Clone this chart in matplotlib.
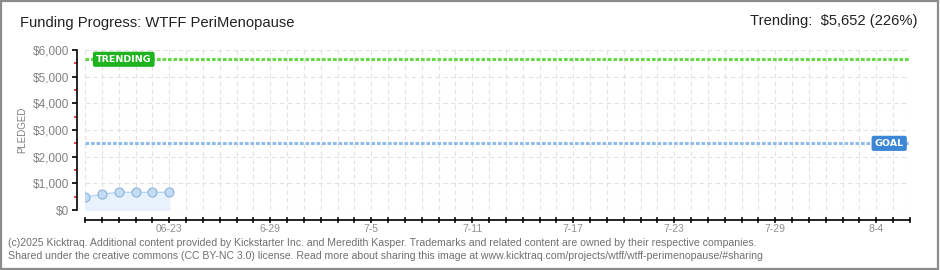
import matplotlib
matplotlib.use("Agg")
import matplotlib.pyplot as plt
import matplotlib.dates as mdates
from matplotlib.ticker import FixedLocator, FixedFormatter, MultipleLocator, FuncFormatter
from matplotlib.patches import Rectangle
import numpy as np

plt.rcParams['font.family'] = ['Liberation Sans', 'DejaVu Sans']

# pledge data
dates = np.array(['2025-06-18', '2025-06-19', '2025-06-20',
                  '2025-06-21', '2025-06-22', '2025-06-23'], dtype='datetime64[D]')
pledged = [475, 590, 660, 662, 662, 665]

goal = 2500
trending = 5652
start = np.datetime64('2025-06-18')
end = np.datetime64('2025-08-06')

label_dates = np.array(['2025-06-23', '2025-06-29', '2025-07-05', '2025-07-11',
                        '2025-07-17', '2025-07-23', '2025-07-29', '2025-08-04'],
                       dtype='datetime64[D]')
label_text = ['06-23', '6-29', '7-5', '7-11', '7-17', '7-23', '7-29', '8-4']

x = mdates.date2num(dates.astype('datetime64[s]').astype(object))
x0 = mdates.date2num(start.astype(object))
x1 = mdates.date2num(end.astype(object))
days = np.arange(x0, x1 + 1)
lx = [mdates.date2num(d.astype(object)) for d in label_dates]

fig = plt.figure(figsize=(9.4, 2.7), dpi=100)
fig.patches.append(Rectangle((0.001, 0.002), 0.997, 0.995, transform=fig.transFigure,
                             fill=False, edgecolor='#8c8c8c', linewidth=1.6))

ax = fig.add_axes([85 / 940, 60 / 270, 825 / 940, 160 / 270])
ax.set_xlim(x0, x1)
ax.set_ylim(0, 6000)

# grid
for d in days:
    ax.axvline(d, color='#e2e2e2', lw=0.8, ls=(0, (4, 3)), zorder=0)
for v in range(0, 7000, 1000):
    ax.axhline(v, color='#e2e2e2', lw=0.8, ls=(0, (4, 3)), zorder=0)

# goal and trending lines
ax.axhline(goal, color='#8fbce8', lw=2.2, ls=(0, (1.2, 0.6)), zorder=2)
ax.axhline(trending, color='#66d84a', lw=2.2, ls=(0, (1.2, 0.6)), zorder=2)

# pledge series
ax.fill_between(x, pledged, 0, color='#e8f2fc', zorder=1)
ax.plot(x, pledged, color='#b8d6f4', lw=1, zorder=3)
ax.plot(x, pledged, 'o', ms=6.5, mfc='#c3dcf6', mec='#8eb2d8', mew=0.8, zorder=4)

# labels on lines
ax.text(x0 + 0.65, trending, 'TRENDING', color='white', fontsize=6.8, fontweight='bold',
        family='DejaVu Sans', va='center', ha='left', zorder=5,
        bbox=dict(boxstyle='round,pad=0.25,rounding_size=0.15', fc='#1fb41f', ec='#1fb41f'))
ax.text(x1 - 2.1, goal, 'GOAL', color='white', fontsize=6.8, fontweight='bold',
        family='DejaVu Sans', va='center', ha='left', zorder=5,
        bbox=dict(boxstyle='round,pad=0.25,rounding_size=0.15', fc='#3c86d6', ec='#3c86d6'))

# spines
for s in ['top', 'right']:
    ax.spines[s].set_visible(False)
ax.spines['left'].set_position(('outward', 5.8))
ax.spines['bottom'].set_position(('outward', 7.2))
ax.spines['left'].set_bounds(0, 6000)
ax.spines['bottom'].set_bounds(x0, x1)
ax.spines['left'].set_linewidth(1.2)
ax.spines['bottom'].set_linewidth(1.2)

# y ticks
ax.yaxis.set_major_locator(MultipleLocator(1000))
ax.yaxis.set_minor_locator(FixedLocator(list(range(500, 6000, 1000))))
ax.yaxis.set_major_formatter(FuncFormatter(lambda v, p: '${:,.0f}'.format(v)))
ax.tick_params(axis='y', which='major', length=3.5, width=1.2, color='black',
               labelsize=8.5, labelcolor='#808080', pad=2)
ax.tick_params(axis='y', which='minor', length=2, width=1.2, color='#e02020')

# x ticks
ax.xaxis.set_major_locator(FixedLocator(lx))
ax.xaxis.set_major_formatter(FixedFormatter(label_text))
ax.xaxis.set_minor_locator(FixedLocator(days))
ax.tick_params(axis='x', which='both', direction='inout', length=5, width=1.1,
               color='black', labelsize=7.5, labelcolor='#909090', pad=0.5)

ax.set_ylabel('PLEDGED', fontsize=7, color='#808080', labelpad=4)

fig.text(20 / 940, 1 - 23 / 270, 'Funding Progress: WTFF PeriMenopause',
         fontsize=10.6, color='#222222', va='center', ha='left')
fig.text(918 / 940, 1 - 21 / 270, 'Trending:  $5,652 (226%)',
         fontsize=10.6, color='#222222', va='center', ha='right')

fig.text(8 / 940, 1 - 243 / 270,
         '(c)2025 Kicktraq. Additional content provided by Kickstarter Inc. and Meredith Kasper. '
         'Trademarks and related content are owned by their respective companies.',
         fontsize=7.55, color='#707070', va='center', ha='left')
fig.text(8 / 940, 1 - 256 / 270,
         'Shared under the creative commons (CC BY-NC 3.0) license. Read more about sharing this '
         'image at www.kicktraq.com/projects/wtff/wtff-perimenopause/#sharing',
         fontsize=7.55, color='#707070', va='center', ha='left')

fig.savefig('out.png', dpi=100)
